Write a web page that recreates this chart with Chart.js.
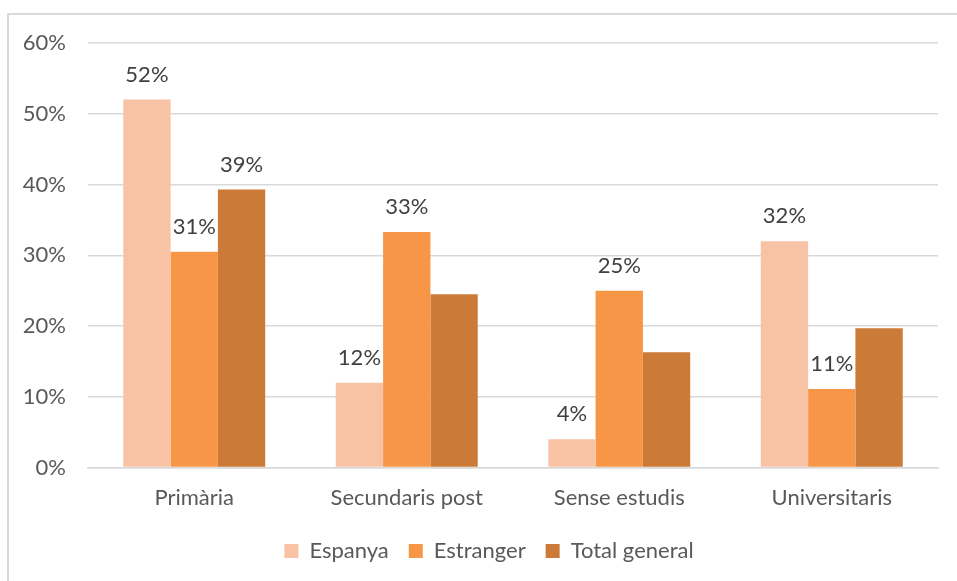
<!DOCTYPE html>
<html>
<head>
<meta charset="utf-8">
<script src="https://cdn.jsdelivr.net/npm/chart.js@4/dist/chart.umd.min.js"></script>
<style>
  body { margin: 0; background: #fff; }
  #wrap { width: 957px; height: 581px; }
</style>
</head>
<body>
<div id="wrap"><canvas id="canvas_chart" width="957" height="581"></canvas></div>
<script>
const categories = ['Primària', 'Secundaris post', 'Sense estudis', 'Universitaris'];
const espanya = [52, 12, 4, 32];
const estranger = [30.5, 33.3, 25, 11.1];
const totalGeneral = [39.3, 24.5, 16.3, 19.7];
// which bars carry a value label
const showEspanya = [true, true, true, true];
const showEstranger = [true, true, true, true];
const showTotal = [true, false, false, false];
const yTicks = [0, 10, 20, 30, 40, 50, 60];

const FONT = 'Lato, "Open Sans", sans-serif';
const FS = 22;

const frame = {
    id: 'frame',
    beforeDraw(chart) {
        const c = chart.ctx;
        c.save();
        c.strokeStyle = '#d9d9d9';
        c.lineWidth = 2;
        c.beginPath();
        c.moveTo(8, 700);
        c.lineTo(8, 14);
        c.lineTo(1000, 14);
        c.stroke();
        c.restore();
    },
    afterLayout(chart) {
        // legend sits a bit right of the canvas centre in the original
        chart.legend.left += 20;
        chart.legend.right += 20;
    }
};

const valueLabels = {
    id: 'valueLabels',
    afterDatasetsDraw(chart) {
        const c = chart.ctx;
        c.save();
        c.font = FS + 'px ' + FONT;
        c.fillStyle = '#404040';
        c.textAlign = 'center';
        c.textBaseline = 'middle';
        chart.data.datasets.forEach((ds, i) => {
            chart.getDatasetMeta(i).data.forEach((bar, j) => {
                if (!ds.showLabel[j]) return;
                c.fillText(Math.round(ds.data[j]) + '%', bar.x, bar.y - 25);
            });
        });
        c.restore();
    }
};

const ctx = document.getElementById('canvas_chart');

new Chart(ctx, {
    type: 'bar',
    data: {
        labels: categories,
        datasets: [
            { label: 'Espanya', data: espanya, backgroundColor: '#F8C2A4', showLabel: showEspanya },
            { label: 'Estranger', data: estranger, backgroundColor: '#F79646', showLabel: showEstranger },
            { label: 'Total general', data: totalGeneral, backgroundColor: '#CC7A37', showLabel: showTotal }
        ]
    },
    options: {
        responsive: false,
        animation: false,
        layout: { padding: { left: 0, top: 43, right: 19, bottom: 9 } },
        datasets: { bar: { barPercentage: 1, categoryPercentage: 0.668 } },
        scales: {
            y: {
                min: 0,
                max: 60,
                afterBuildTicks(scale) { scale.ticks = yTicks.map(v => ({ value: v })); },
                afterFit(scale) { scale.width = 88; },
                border: { display: false },
                grid: { color: '#d9d9d9', lineWidth: 1.5, drawTicks: false },
                ticks: {
                    padding: 22,
                    color: '#595959',
                    font: { family: FONT, size: FS },
                    callback: v => v + '%'
                }
            },
            x: {
                afterFit(scale) { scale.height -= 8; },
                border: { color: '#d9d9d9', width: 1.5 },
                grid: { display: false, drawTicks: false },
                ticks: {
                    padding: 17,
                    color: '#595959',
                    font: { family: FONT, size: FS }
                }
            }
        },
        plugins: {
            legend: {
                position: 'bottom',
                labels: {
                    boxWidth: 14,
                    boxHeight: 14,
                    padding: 20,
                    color: '#595959',
                    font: { family: FONT, size: FS }
                }
            },
            tooltip: { enabled: false }
        }
    },
    plugins: [frame, valueLabels]
});
</script>
</body>
</html>
